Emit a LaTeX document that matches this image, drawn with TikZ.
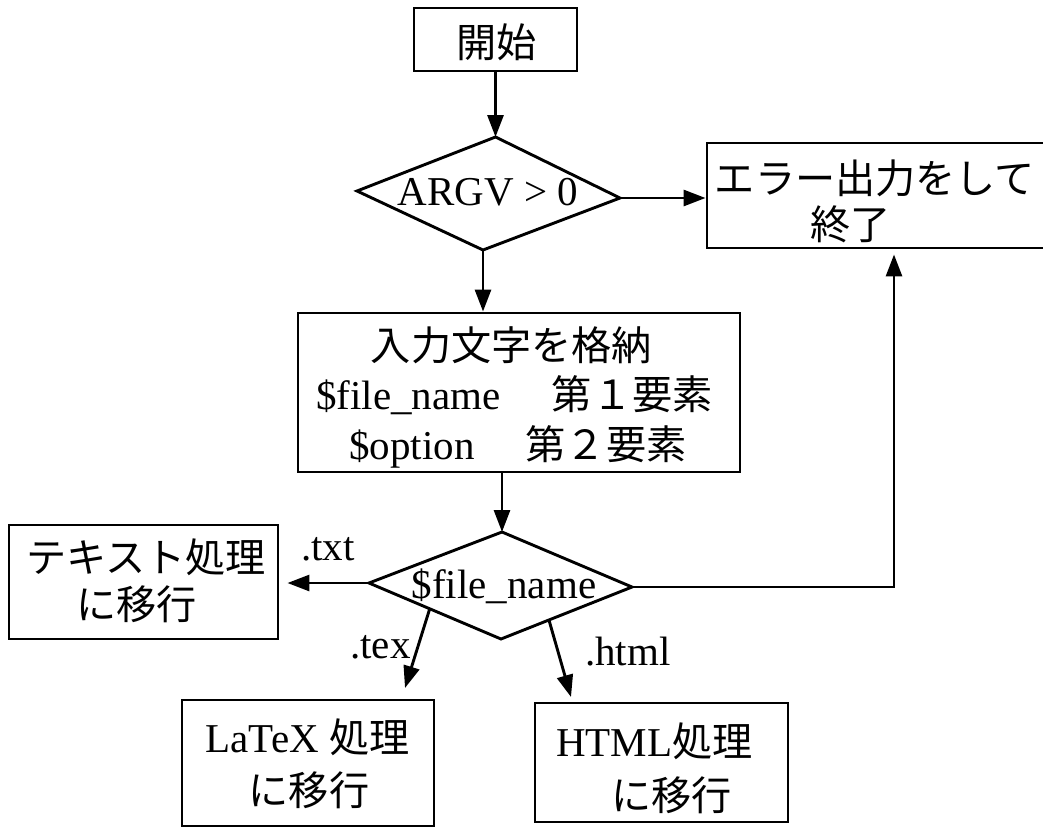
\documentclass[tikz,border=0pt]{standalone}
\usepackage{fontspec}
\setmainfont{Liberation Serif}
\newfontfamily\jpfont[Scale=0.98]{Noto Sans CJK JP}
\usetikzlibrary{arrows.meta,calc}

\begin{document}
\begin{tikzpicture}[x=1pt,y=-1pt,
  every node/.style={font=\fontsize{41}{47}\selectfont},
  frame/.style={draw,line width=2.9pt,inner sep=0pt},
  lbl/.style={inner sep=0pt,anchor=base},
  lblw/.style={inner sep=0pt,anchor=base west},
  conn/.style={line width=2.9pt},
  arr/.style={conn,-{Triangle[length=22pt,width=16pt]}},
  ]
\useasboundingbox (0,0) rectangle (1043,828);

% process boxes
\node[frame,minimum width=163pt,minimum height=63pt]  (start)   at (495.5,39.5) {};
\node[frame,minimum width=339pt,minimum height=105pt] (err)     at (876.5,195.5) {};
\node[frame,minimum width=442pt,minimum height=159pt] (proc)    at (519,392.5) {};
\node[frame,minimum width=269pt,minimum height=114pt] (textbox) at (143.5,582) {};
\node[frame,minimum width=252pt,minimum height=126pt] (latex)   at (308,763) {};
\node[frame,minimum width=253pt,minimum height=119pt] (html)    at (661.5,762.5) {};

% decision shapes
\coordinate (d1t) at (495.5,137);
\coordinate (d1r) at (620,198);
\coordinate (d1b) at (483,250);
\coordinate (d1l) at (357,191);
\draw[conn,line join=miter] (d1t) -- (d1r) -- (d1b) -- (d1l) -- cycle;

\coordinate (d2t) at (502,532);
\coordinate (d2r) at (632,587);
\coordinate (d2b) at (501,639);
\coordinate (d2l) at (369,583);
\draw[conn,line join=miter] (d2t) -- (d2r) -- (d2b) -- (d2l) -- cycle;

% texts
\node[lbl] (startlbl) at (496.5,57) {\jpfont 開始};
\node[lbl] (d1lbl) at (488,205) {ARGV > 0};
\node[lbl] (errlbla) at (875,193) {\jpfont エラー出力をして};
\node[lbl] (errlblb) at (850.5,239) {\jpfont 終了};
\node[lbl] (proclbla) at (511.5,360) {\jpfont 入力文字を格納};
\node[lblw] (proclblb) at (316,409) {\$file\_name\hspace{1.25em}{\jpfont 第１要素}};
\node[lblw] (proclblc) at (349,459) {\$option\hspace{1.25em}{\jpfont 第２要素}};
\node[lbl] (d2lbl) at (504,598) {\$file\_name};
\node[lblw] (textlbla) at (26,572) {\jpfont テキスト処理};
\node[lblw] (textlblb) at (76,619) {\jpfont に移行};
\node[lbl] (latexlbla) at (307.5,752) {LaTeX {\jpfont 処理}};
\node[lbl] (latexlblb) at (309,805) {\jpfont に移行};
\node[lblw] (htmllbla) at (556,756.5) {HTML{\jpfont 処理}};
\node[lblw] (htmllblb) at (611,810) {\jpfont に移行};

% branch labels
\node[lblw] (txtlbl)  at (301,560) {.txt};
\node[lblw] (texlbl)  at (350,658) {.tex};
\node[lblw] (htmlbl)  at (585,665) {.html};

% connectors
\coordinate (up) at (894,587);
\coordinate (texend) at (405,688);
\coordinate (htmlend) at (571,697);

\draw[arr] (start.south) -- (d1t);
\draw[arr] (d1r) -- (d1r -| err.west);
\draw[arr] (d1b) -- (d1b |- proc.north);
\draw[arr] (proc.south -| d2t) -- (d2t);
\draw[arr,shorten >=8pt] (d2l) -- (d2l -| textbox.east);
\draw[arr,shorten >=5pt] (d2r) -- (up) -- (up |- err.south);
\draw[arr] ($(d2l)!0.46!(d2b)$) -- (texend);
\draw[arr] ($(d2b)!0.366!(d2r)$) -- (htmlend);
\end{tikzpicture}
\end{document}
